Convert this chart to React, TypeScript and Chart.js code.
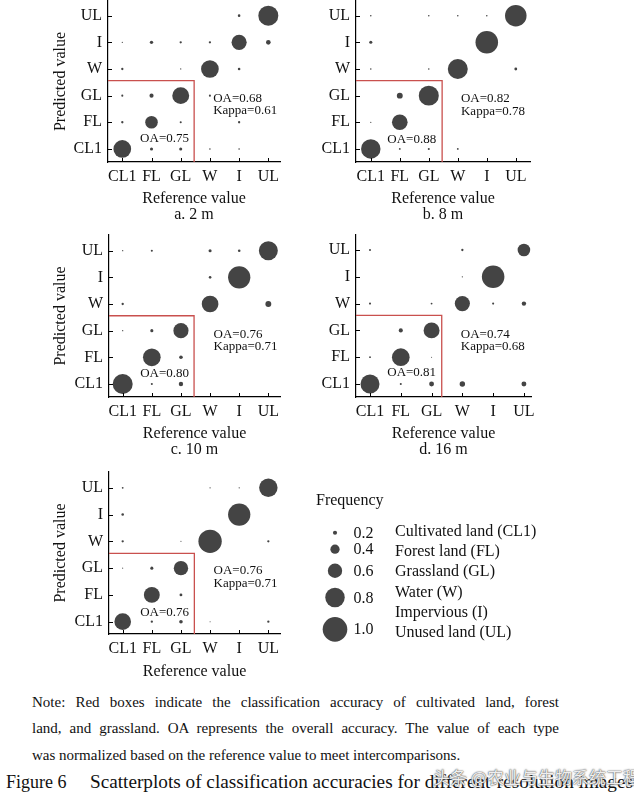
import React, { useEffect, useLayoutEffect, useRef } from "react";
import { Chart, registerables } from "chart.js";
Chart.register(...registerables);

// ---------------- DATA ----------------
const CLASSES = ["CL1", "FL", "GL", "W", "I", "UL"];

// Normalised frequency; rows = predicted class (CL1 -> UL), columns = reference class (CL1 -> UL)
const FREQ_2M = [
  [0.73, 0.16, 0.16, 0.1, 0.1, 0],
  [0.13, 0.53, 0.12, 0, 0.13, 0],
  [0.12, 0.2, 0.7, 0.12, 0, 0],
  [0.13, 0, 0.09, 0.73, 0.14, 0],
  [0.09, 0.17, 0.13, 0.13, 0.63, 0.22],
  [0, 0, 0, 0, 0.14, 0.82],
];
const FREQ_8M = [
  [0.8, 0.11, 0.12, 0.11, 0, 0],
  [0.09, 0.65, 0, 0, 0, 0],
  [0, 0.27, 0.82, 0, 0, 0],
  [0.1, 0, 0.1, 0.82, 0, 0.15],
  [0.16, 0, 0, 0, 0.92, 0],
  [0.1, 0, 0.1, 0.1, 0.1, 0.88],
];
const FREQ_10M = [
  [0.82, 0.12, 0.21, 0, 0, 0],
  [0, 0.73, 0.18, 0, 0, 0],
  [0.09, 0.16, 0.63, 0, 0, 0],
  [0.13, 0, 0, 0.69, 0, 0.27],
  [0, 0, 0, 0.14, 0.91, 0],
  [0.09, 0.12, 0, 0.16, 0.14, 0.78],
];
const FREQ_16M = [
  [0.78, 0.12, 0.23, 0.25, 0, 0.23],
  [0.11, 0.73, 0.08, 0, 0, 0],
  [0, 0.2, 0.66, 0, 0, 0],
  [0.12, 0, 0.11, 0.63, 0.12, 0.21],
  [0, 0, 0, 0.09, 0.92, 0],
  [0.12, 0, 0, 0.13, 0, 0.53],
];
const FREQ_E = [
  [0.69, 0.13, 0.18, 0.08, 0, 0.13],
  [0, 0.66, 0.15, 0, 0, 0],
  [0.08, 0.16, 0.6, 0, 0, 0],
  [0.13, 0, 0.08, 0.95, 0, 0.13],
  [0.14, 0, 0, 0, 0.91, 0],
  [0.11, 0, 0, 0.09, 0.09, 0.76],
];
const OA_ALL = ["0.68", "0.82", "0.76", "0.74", "0.76"];
const KAPPA = ["0.61", "0.78", "0.71", "0.68", "0.71"];
const OA_BOX = ["0.75", "0.88", "0.80", "0.81", "0.76"];
const PANEL_LABELS = ["a. 2 m", "b. 8 m", "c. 10 m", "d. 16 m", ""];
const LEGEND_VALUES = [0.2, 0.4, 0.6, 0.8, 1.0];
const LEGEND_CLASSES = [
  "Cultivated land (CL1)",
  "Forest land (FL)",
  "Grassland (GL)",
  "Water (W)",
  "Impervious (I)",
  "Unused land (UL)",
];
const NOTE_LINES = [
  "Note: Red boxes indicate the classification accuracy of cultivated land, forest",
  "land, and grassland. OA represents the overall accuracy. The value of each type",
  "was normalized based on the reference value to meet intercomparisons.",
];
const CAPTION_NUM = "Figure 6";
const CAPTION_TEXT = "Scatterplots of classification accuracies for different-resolution images";
const WATERMARK = "头条 @农业与生物系统工程";

// ---------------- STYLE / LAYOUT ----------------
const SERIF = "'Liberation Serif', 'Times New Roman', Times, serif";
const DOT = "#444444";
const RED = "#c9504e";
const INK = "#111111";
const radiusOf = (v: number) => Math.max(0.5, 12.8 * v - 0.5);

type PanelCfg = {
  left: number; top: number; width: number; height: number;
  areaLeft: number; areaRight: number; areaTop: number; areaBottom: number;
  xMin: number; xMax: number; yMin: number; yMax: number;
  yTitle: boolean; yTitleX: number; titleLastY: number;
  boxX: number; boxY: number;
  oaX: number; oaY: number; kY: number; inX: number; inY: number;
};

const PANELS: PanelCfg[] = [
  { left: 40, top: 0, width: 250, height: 225, areaLeft: 108, areaRight: 280, areaTop: 1, areaBottom: 162,
    xMin: -0.49, xMax: 5.4, yMin: -0.49, yMax: 5.55, yTitle: true, yTitleX: 61, titleLastY: 215,
    boxX: 2.46, boxY: 2.56, oaX: 3.11, oaY: 1.88, kY: 1.43, inX: 0.61, inY: 0.38 },
  { left: 290, top: 0, width: 250, height: 225, areaLeft: 356, areaRight: 530, areaTop: 1, areaBottom: 162,
    xMin: -0.51, xMax: 5.49, yMin: -0.49, yMax: 5.55, yTitle: false, yTitleX: 0, titleLastY: 215,
    boxX: 2.46, boxY: 2.56, oaX: 3.11, oaY: 1.88, kY: 1.41, inX: 0.57, inY: 0.36 },
  { left: 40, top: 232, width: 250, height: 228, areaLeft: 109, areaRight: 280, areaTop: 235, areaBottom: 397,
    xMin: -0.47, xMax: 5.4, yMin: -0.49, yMax: 5.59, yTitle: true, yTitleX: 61, titleLastY: 450,
    boxX: 2.45, boxY: 2.56, oaX: 3.12, oaY: 1.87, kY: 1.41, inX: 0.6, inY: 0.4 },
  { left: 290, top: 232, width: 250, height: 228, areaLeft: 356, areaRight: 531, areaTop: 235, areaBottom: 397,
    xMin: -0.455, xMax: 5.23, yMin: -0.485, yMax: 5.56, yTitle: false, yTitleX: 0, titleLastY: 450,
    boxX: 2.33, boxY: 2.56, oaX: 2.95, oaY: 1.84, kY: 1.4, inX: 0.56, inY: 0.42 },
  { left: 40, top: 468, width: 250, height: 213, areaLeft: 109, areaRight: 280, areaTop: 472, areaBottom: 634,
    xMin: -0.47, xMax: 5.4, yMin: -0.46, yMax: 5.59, yTitle: true, yTitleX: 60.5, titleLastY: 671.5,
    boxX: 2.46, boxY: 2.55, oaX: 3.12, oaY: 1.9, kY: 1.43, inX: 0.6, inY: 0.34 },
];
const FREQS = [FREQ_2M, FREQ_8M, FREQ_10M, FREQ_16M, FREQ_E];

function Panel({ idx }: { idx: number }) {
  const ref = useRef<HTMLCanvasElement>(null);
  const cfg = PANELS[idx];
  useEffect(() => {
    const canvas = ref.current!;
    const freq = FREQS[idx];
    const points: { x: number; y: number; r: number }[] = [];
    freq.forEach((row, r) =>
      row.forEach((v, c) => {
        if (v > 0) points.push({ x: c, y: r, r: radiusOf(v) });
      })
    );
    const xTitleLH = 16;
    const xTitleText = PANEL_LABELS[idx] ? ["Reference value", PANEL_LABELS[idx]] : ["Reference value"];
    const xTitlePad = Math.max(0, cfg.top + cfg.height - cfg.titleLastY - xTitleLH / 2);
    const yTitleLH = 19.2;
    const yTitlePad = cfg.yTitleX - cfg.left - yTitleLH / 2;

    const annot = {
      id: "annot" + idx,
      beforeDatasetsDraw(chart: any) {
        const { ctx, chartArea } = chart;
        const x = chart.scales.x, y = chart.scales.y;
        const bx = x.getPixelForValue(cfg.boxX);
        const by = y.getPixelForValue(cfg.boxY);
        ctx.save();
        ctx.strokeStyle = RED;
        ctx.lineWidth = 1.3;
        ctx.beginPath();
        ctx.moveTo(chartArea.left, by);
        ctx.lineTo(bx, by);
        ctx.lineTo(bx, chartArea.bottom);
        ctx.stroke();
        ctx.restore();
      },
      afterDraw(chart: any) {
        const { ctx, chartArea } = chart;
        const x = chart.scales.x, y = chart.scales.y;
        ctx.save();
        ctx.strokeStyle = "#000";
        ctx.lineWidth = 1;
        ctx.beginPath();
        CLASSES.forEach((_, i) => {
          const px = Math.round(x.getPixelForValue(i)) + 0.5;
          ctx.moveTo(px, chartArea.bottom);
          ctx.lineTo(px, chartArea.bottom - 4);
          const py = Math.round(y.getPixelForValue(i)) + 0.5;
          ctx.moveTo(chartArea.left, py);
          ctx.lineTo(chartArea.left + 4, py);
        });
        ctx.stroke();
        ctx.font = `13px ${SERIF}`;
        ctx.fillStyle = INK;
        ctx.textAlign = "left";
        ctx.textBaseline = "middle";
        ctx.fillText(`OA=${OA_ALL[idx]}`, x.getPixelForValue(cfg.oaX), y.getPixelForValue(cfg.oaY));
        ctx.fillText(`Kappa=${KAPPA[idx]}`, x.getPixelForValue(cfg.oaX), y.getPixelForValue(cfg.kY));
        ctx.fillText(`OA=${OA_BOX[idx]}`, x.getPixelForValue(cfg.inX), y.getPixelForValue(cfg.inY));
        ctx.restore();
      },
    };

    const tickFont = { family: SERIF, size: 16, lineHeight: 1.2 };
    const chart = new Chart(canvas, {
      type: "bubble",
      data: {
        datasets: [
          {
            data: points,
            backgroundColor: DOT,
            borderWidth: 0,
            clip: false as any,
          } as any,
        ],
      },
      options: {
        animation: false,
        responsive: false,
        maintainAspectRatio: false,
        devicePixelRatio: 1,
        events: [],
        layout: {
          autoPadding: false,
          padding: {
            left: 0,
            top: cfg.areaTop - cfg.top,
            right: cfg.left + cfg.width - cfg.areaRight,
            bottom: 0,
          },
        },
        plugins: { legend: { display: false }, tooltip: { enabled: false }, title: { display: false } },
        scales: {
          x: {
            type: "linear",
            min: cfg.xMin,
            max: cfg.xMax,
            bounds: "data",
            afterBuildTicks: (s: any) => {
              s.ticks = CLASSES.map((_, i) => ({ value: i }));
            },
            afterFit: (s: any) => {
              s.height = cfg.top + cfg.height - cfg.areaBottom;
              s.paddingLeft = 0;
              s.paddingRight = 0;
              s.paddingTop = 0;
              s.paddingBottom = 0;
            },
            ticks: {
              callback: (v: any) => CLASSES[v] ?? "",
              font: tickFont,
              color: INK,
              padding: 5,
              maxRotation: 0,
              autoSkip: false,
            },
            grid: { display: true, drawOnChartArea: false, drawTicks: false, color: "rgba(0,0,0,0)" },
            border: { display: true, color: "#000", width: 1.2 },
            title: {
              display: true,
              text: xTitleText,
              font: { family: SERIF, size: 16, lineHeight: 1.0 },
              color: INK,
              padding: { top: 0, bottom: xTitlePad },
            },
          } as any,
          y: {
            type: "linear",
            min: cfg.yMin,
            max: cfg.yMax,
            bounds: "data",
            afterBuildTicks: (s: any) => {
              s.ticks = CLASSES.map((_, i) => ({ value: i }));
            },
            afterFit: (s: any) => {
              s.width = cfg.areaLeft - cfg.left;
              s.paddingLeft = 0;
              s.paddingRight = 0;
              s.paddingTop = 0;
              s.paddingBottom = 0;
            },
            ticks: {
              callback: (v: any) => CLASSES[v] ?? "",
              font: tickFont,
              color: INK,
              padding: 6,
              autoSkip: false,
            },
            grid: { display: true, drawOnChartArea: false, drawTicks: false, color: "rgba(0,0,0,0)" },
            border: { display: true, color: "#000", width: 1.2 },
            title: {
              display: cfg.yTitle,
              text: "Predicted value",
              font: { family: SERIF, size: 16, lineHeight: 1.2 },
              color: INK,
              padding: { top: yTitlePad, bottom: 0 },
            },
          } as any,
        },
      },
      plugins: [annot],
    });
    return () => chart.destroy();
  }, []);
  return (
    <canvas
      ref={ref}
      width={cfg.width}
      height={cfg.height}
      style={{ position: "absolute", left: cfg.left, top: cfg.top, width: cfg.width, height: cfg.height }}
    />
  );
}

const LEG = { left: 300, top: 480, width: 334, height: 165 };

function LegendChart() {
  const ref = useRef<HTMLCanvasElement>(null);
  useEffect(() => {
    const canvas = ref.current!;
    // stack the size symbols vertically with a constant gap between them
    const gap = 9.8;
    const radii = LEGEND_VALUES.map(radiusOf);
    const ys: number[] = [];
    radii.forEach((r, i) => {
      ys.push(i === 0 ? 52.7 : ys[i - 1] + radii[i - 1] + gap + r);
    });
    const symbolX = 35;
    const points = LEGEND_VALUES.map((v, i) => ({ x: symbolX, y: ys[i], r: radiusOf(v) }));
    const texts = {
      id: "legendTexts",
      afterDraw(chart: any) {
        const { ctx } = chart;
        const x = chart.scales.x, y = chart.scales.y;
        ctx.save();
        ctx.font = `16px ${SERIF}`;
        ctx.fillStyle = INK;
        ctx.textAlign = "left";
        ctx.textBaseline = "middle";
        ctx.fillText("Frequency", x.getPixelForValue(16), y.getPixelForValue(20.7));
        LEGEND_VALUES.forEach((v, i) => {
          ctx.fillText(v.toFixed(1), x.getPixelForValue(53.5), y.getPixelForValue(ys[i] + 0.8));
        });
        LEGEND_CLASSES.forEach((c, i) => {
          ctx.fillText(c, x.getPixelForValue(95), y.getPixelForValue(51.7 + i * 20.2));
        });
        ctx.restore();
      },
    };
    const chart = new Chart(canvas, {
      type: "bubble",
      data: { datasets: [{ data: points, backgroundColor: DOT, borderWidth: 0, clip: false as any } as any] },
      options: {
        animation: false,
        responsive: false,
        maintainAspectRatio: false,
        devicePixelRatio: 1,
        events: [],
        layout: { autoPadding: false, padding: 0 },
        plugins: { legend: { display: false }, tooltip: { enabled: false } },
        scales: {
          x: { type: "linear", display: false, min: 0, max: LEG.width },
          y: { type: "linear", display: false, min: 0, max: LEG.height, reverse: true },
        },
      } as any,
      plugins: [texts],
    });
    return () => chart.destroy();
  }, []);
  return (
    <canvas
      ref={ref}
      width={LEG.width}
      height={LEG.height}
      style={{ position: "absolute", left: LEG.left, top: LEG.top, width: LEG.width, height: LEG.height }}
    />
  );
}

function FitText({ text, left, top, width, fontSize }: { text: string; left: number; top: number; width: number; fontSize: number }) {
  const ref = useRef<HTMLSpanElement>(null);
  useLayoutEffect(() => {
    const el = ref.current!;
    el.style.transform = "";
    const w = el.getBoundingClientRect().width;
    if (w > 0) el.style.transform = `scaleX(${width / w})`;
  }, []);
  return (
    <span
      ref={ref}
      style={{
        position: "absolute",
        left,
        top,
        whiteSpace: "nowrap",
        transformOrigin: "0 0",
        fontSize,
        lineHeight: "20px",
        fontFamily: SERIF,
        color: INK,
      }}
    >
      {text}
    </span>
  );
}

export default function App() {
  const noteTops = [691.7, 717.7, 745];
  return (
    <div
      style={{
        position: "absolute",
        left: 0,
        top: 0,
        width: 634,
        height: 797,
        background: "#fff",
        overflow: "hidden",
        fontFamily: SERIF,
        color: INK,
      }}
    >
      {PANELS.map((_, i) => (
        <Panel key={i} idx={i} />
      ))}
      <LegendChart />
      {NOTE_LINES.map((line, i) => (
        <div
          key={i}
          style={{
            position: "absolute",
            left: 32,
            top: noteTops[i],
            width: 527,
            fontSize: 15,
            lineHeight: "20px",
            whiteSpace: "nowrap",
            textAlign: i < 2 ? "justify" : "left",
            textAlignLast: i < 2 ? "justify" : "left",
          } as any}
        >
          {line}
        </div>
      ))}
      <span
        style={{
          position: "absolute",
          left: 6,
          top: 771.7,
          fontSize: 18,
          lineHeight: "20px",
          whiteSpace: "nowrap",
        }}
      >
        {CAPTION_NUM}
      </span>
      <FitText text={CAPTION_TEXT} left={90} top={771.7} width={543} fontSize={18} />
      <span
        style={{
          position: "absolute",
          left: 433,
          top: 766,
          fontSize: 17,
          lineHeight: "22px",
          whiteSpace: "nowrap",
          fontFamily: "'Noto Sans CJK SC', sans-serif",
          color: "rgba(255,255,255,0.92)",
          textShadow: "0 0 1px #444, 0 0 2px #666",
        }}
      >
        {WATERMARK}
      </span>
    </div>
  );
}
